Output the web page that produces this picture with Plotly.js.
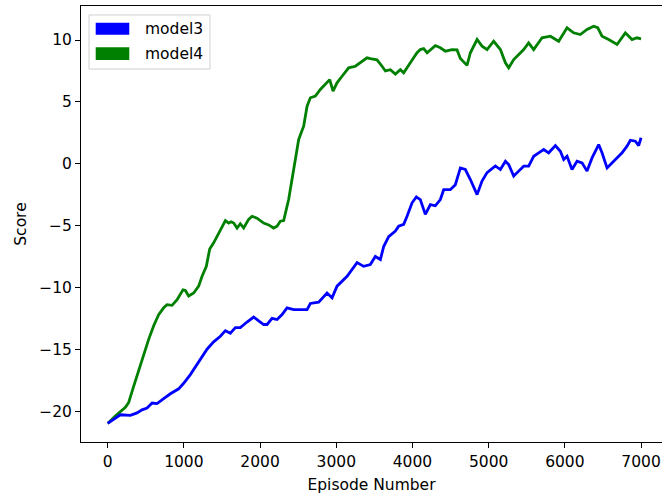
<!DOCTYPE html>
<html>
<head>
<meta charset="utf-8">
<script src="https://cdn.plot.ly/plotly-3.0.1.min.js"></script>
<style>html,body{margin:0;padding:0;background:#fff;}#chart{width:662px;height:495px;}</style>
</head>
<body>
<div id="chart"></div>
<script>
const seriesNames = ["model3", "model4"];
const model3Episodes = [0,167,298,385,451,517,583,648,735,823,932,997,1085,1151,1217,1304,1391,1479,1545,1610,1676,1741,1829,1916,1982,2047,2092,2157,2223,2289,2354,2441,2529,2617,2660,2769,2879,2945,3010,3142,3273,3360,3447,3513,3579,3622,3688,3776,3819,3885,3929,3995,4051,4103,4169,4235,4300,4366,4410,4497,4563,4629,4694,4760,4848,4913,4979,5088,5154,5220,5263,5329,5394,5460,5525,5591,5657,5722,5788,5876,5941,5985,6029,6094,6160,6226,6291,6357,6444,6488,6554,6619,6685,6751,6816,6860,6925,6969,7000];
const model3Scores = [-21.0,-20.3,-20.35,-20.15,-19.9,-19.75,-19.35,-19.4,-19.0,-18.6,-18.2,-17.75,-17.05,-16.4,-15.8,-15.0,-14.4,-13.95,-13.5,-13.7,-13.25,-13.25,-12.8,-12.4,-12.7,-13.0,-13.0,-12.5,-12.6,-12.2,-11.65,-11.8,-11.8,-11.8,-11.3,-11.2,-10.45,-10.85,-9.9,-9.1,-8.0,-8.3,-8.15,-7.5,-7.75,-6.7,-5.9,-5.45,-5.05,-4.9,-4.25,-3.16,-2.68,-2.9,-4.1,-3.3,-3.4,-2.9,-2.1,-2.1,-1.7,-0.34,-0.47,-1.28,-2.5,-1.4,-0.72,-0.18,-0.47,0.2,-0.07,-1.0,-0.6,-0.2,-0.2,0.6,0.88,1.15,0.88,1.47,1.0,0.34,0.6,-0.47,0.2,0.07,-0.6,0.47,1.55,0.88,-0.34,0.07,0.47,0.88,1.42,1.9,1.82,1.47,2.1];
const model4Episodes = [0,100,233,276,341,407,472,538,604,669,735,779,845,911,989,1020,1063,1129,1194,1239,1295,1339,1391,1457,1522,1545,1588,1620,1654,1698,1741,1785,1850,1895,1960,2047,2113,2178,2223,2266,2310,2332,2375,2441,2507,2572,2617,2660,2726,2791,2857,2914,2958,3010,3076,3163,3251,3316,3404,3447,3535,3601,3645,3710,3776,3841,3885,3972,4060,4103,4147,4192,4300,4366,4432,4520,4585,4629,4716,4760,4848,4913,4979,5066,5154,5220,5263,5329,5394,5460,5525,5591,5701,5810,5919,6029,6115,6203,6291,6378,6431,6488,6575,6685,6794,6882,6947,7000];
const model4Scores = [-21.0,-20.4,-19.7,-19.3,-18.0,-16.7,-15.3,-14.2,-13.1,-12.2,-11.65,-11.4,-11.45,-11.0,-10.2,-10.25,-10.7,-10.45,-9.9,-9.1,-8.3,-6.9,-6.4,-5.6,-4.9,-4.6,-4.8,-4.7,-4.8,-5.2,-4.85,-5.2,-4.5,-4.25,-4.4,-4.8,-4.95,-5.2,-5.05,-4.65,-4.6,-3.95,-2.9,-0.47,1.96,3.03,4.65,5.33,5.46,6.0,6.4,6.8,5.86,6.54,7.07,7.75,7.88,8.2,8.56,8.5,8.4,7.88,7.5,7.6,7.25,7.6,7.35,8.16,8.97,9.23,9.3,8.97,9.55,9.37,9.1,9.23,9.2,8.5,7.95,8.97,10.04,9.5,9.23,9.9,9.23,8.16,7.75,8.42,8.83,9.23,9.77,9.23,10.18,10.31,9.9,10.99,10.58,10.44,10.85,11.12,11.0,10.31,10.04,9.64,10.58,10.04,10.18,10.1];
const xTicks = [0,1000,2000,3000,4000,5000,6000,7000];
const yTicks = [-20,-15,-10,-5,0,5,10];
const colors = ["#0000ff", "#008000"];

const font = {family: "DejaVu Sans", size: 15.5, color: "#000"};

const traces = [
  {x: model4Episodes, y: model4Scores, type: "scatter", mode: "lines", name: seriesNames[1], line: {color: colors[1], width: 2.8}, showlegend: false},
  {x: model3Episodes, y: model3Scores, type: "scatter", mode: "lines", name: seriesNames[0], line: {color: colors[0], width: 2.8}, showlegend: false}
];

// manual legend (patch-style, like matplotlib)
const shapes = [
  {type: "rect", xref: "paper", yref: "paper", x0: 0.0138, x1: 0.222, y0: 0.8555, y1: 0.9794, line: {color: "#d0d0d0", width: 1}, fillcolor: "rgba(255,255,255,0.8)", layer: "above"},
  {type: "rect", xref: "paper", yref: "paper", x0: 0.0253, x1: 0.0831, y0: 0.9342, y1: 0.9617, line: {width: 0}, fillcolor: colors[0], layer: "above"},
  {type: "rect", xref: "paper", yref: "paper", x0: 0.0253, x1: 0.0831, y0: 0.8761, y1: 0.9053, line: {width: 0}, fillcolor: colors[1], layer: "above"}
];
const annotations = [
  {xref: "paper", yref: "paper", x: 0.1062, y: 0.9479, xanchor: "left", yanchor: "middle", text: seriesNames[0], showarrow: false, font: font},
  {xref: "paper", yref: "paper", x: 0.1062, y: 0.8906, xanchor: "left", yanchor: "middle", text: seriesNames[1], showarrow: false, font: font}
];

const layout = {
  width: 662, height: 495,
  margin: {l: 81, r: 0, t: 6, b: 53, pad: 0},
  paper_bgcolor: "#fff", plot_bgcolor: "#fff",
  font: font,
  showlegend: false,
  xaxis: {
    range: [-350, 7275], tickvals: xTicks, ticks: "outside", ticklen: 5, tickwidth: 1, tickcolor: "#000",
    showline: true, linecolor: "#000", linewidth: 1, mirror: true, showgrid: false, zeroline: false,
    title: {text: "Episode Number", font: font, standoff: 9}, automargin: false, tickfont: font
  },
  yaxis: {
    range: [-22.5, 12.75], tickvals: yTicks, ticks: "outside", ticklen: 5, tickwidth: 1, tickcolor: "#000",
    showline: true, linecolor: "#000", linewidth: 1, showgrid: false, zeroline: false,
    title: {text: "Score", font: font, standoff: 8}, automargin: false, tickfont: font
  },
  shapes: shapes,
  annotations: annotations
};

Plotly.newPlot("chart", traces, layout, {displayModeBar: false, staticPlot: true});
</script>
</body>
</html>
